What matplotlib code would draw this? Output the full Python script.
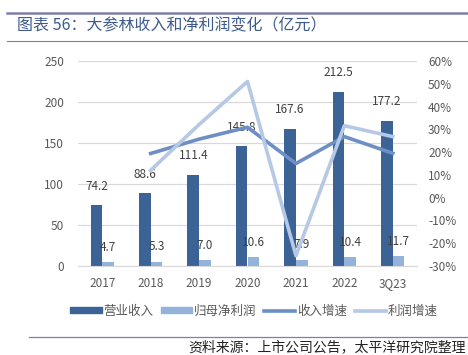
import numpy as np
import matplotlib
matplotlib.use("Agg")
from matplotlib import pyplot as plt
from matplotlib.lines import Line2D
from matplotlib.patches import Patch

plt.rcParams['font.family'] = ['Noto Sans CJK SC', 'DejaVu Sans']

# data
years = ['2017', '2018', '2019', '2020', '2021', '2022', '3Q23']
revenue = [74.2, 88.6, 111.4, 145.8, 167.6, 212.5, 177.2]
profit = [4.7, 5.3, 7.0, 10.6, 7.9, 10.4, 11.7]
rev_growth = [None, 19.4, 25.7, 30.9, 15.0, 26.8, 19.5]
prof_growth = [None, 12.0, 32.1, 51.0, -25.5, 31.6, 26.8]

c_rev = '#3B6396'
c_prof = '#93B3DA'
c_rg = '#6D8FC6'
c_pg = '#B5C8E5'
c_text = '#595959'
c_rule = '#7E7EAE'

fig = plt.figure(figsize=(4.68, 3.55), dpi=100)

# title block with rules
fig.add_artist(Line2D([7 / 468, 1.0], [1 - 13 / 355] * 2, color=c_rule, lw=1.8))
fig.add_artist(Line2D([7 / 468, 1.0], [1 - 41 / 355] * 2, color=c_rule, lw=0.8))
fig.text(17 / 468, 1 - 26 / 355, '图表 56：大参林收入和净利润变化（亿元）',
         fontsize=11.5, color='#3D5A8C', va='center', ha='left', fontweight='light')

ax = fig.add_axes([78 / 468, 1 - 266 / 355, 339 / 468, 205 / 355])
ax2 = ax.twinx()

x = np.arange(len(years))
w = 0.24
ax.bar(x - w / 2, revenue, w, color=c_rev, zorder=2)
ax.bar(x + w / 2, profit, w, color=c_prof, zorder=2)

for xi, v in zip(x, revenue):
    ax.annotate(f'{v:.1f}', (xi - w / 2, v), xytext=(0, 9), textcoords='offset points',
                ha='center', va='bottom', fontsize=8.5, color='#404040', zorder=5)
for xi, v in zip(x, profit):
    ax.annotate(f'{v:.1f}', (xi + w / 2, v), xytext=(0, 6), textcoords='offset points',
                ha='center', va='bottom', fontsize=8.5, color='#404040', zorder=5)

ax.set_ylim(0, 250)
ax.set_yticks(range(0, 251, 50))
ax.set_xlim(-0.5, len(years) - 0.5)
ax.set_xticks(x)
ax.set_xticklabels(years)
ax.yaxis.grid(True, color='#D9D9D9', lw=0.9, zorder=0)
ax.set_axisbelow(True)

xs = x[1:]
ax2.plot(xs, rev_growth[1:], color=c_rg, lw=2.6, zorder=3)
ax2.plot(xs, prof_growth[1:], color=c_pg, lw=2.6, zorder=3)
ax2.set_ylim(-30, 60)
ax2.set_yticks(range(-30, 61, 10))
ax2.set_yticklabels([f'{t}%' for t in range(-30, 61, 10)])

for a in (ax, ax2):
    for s in a.spines.values():
        s.set_visible(False)
    a.tick_params(length=0, labelsize=8.5, labelcolor=c_text)
ax.spines['bottom'].set_visible(True)
ax.spines['bottom'].set_color('#D9D9D9')
ax.tick_params(axis='x', pad=8)
ax.tick_params(axis='y', pad=10)
ax2.tick_params(axis='y', pad=8)

handles = [Patch(color=c_rev), Patch(color=c_prof),
           Line2D([], [], color=c_rg, lw=2.6), Line2D([], [], color=c_pg, lw=2.6)]
labels = ['营业收入', '归母净利润', '收入增速', '利润增速']
fig.legend(handles, labels, loc='center', bbox_to_anchor=(254 / 468, 1 - 311 / 355), ncol=4,
           frameon=False, fontsize=9, labelcolor=c_text, handlelength=2.5,
           handleheight=0.45, handletextpad=0.15, columnspacing=0.6,
           prop={'weight': 'light', 'size': 9})

fig.add_artist(Line2D([29 / 468, 1.0], [1 - 337 / 355] * 2, color=c_rule, lw=0.9))
fig.text(466 / 468, 1 - 347 / 355, '资料来源：上市公司公告，太平洋研究院整理',
         fontsize=10, color='#222222', ha='right', va='center', style='italic')

fig.savefig('out.png', dpi=100)
